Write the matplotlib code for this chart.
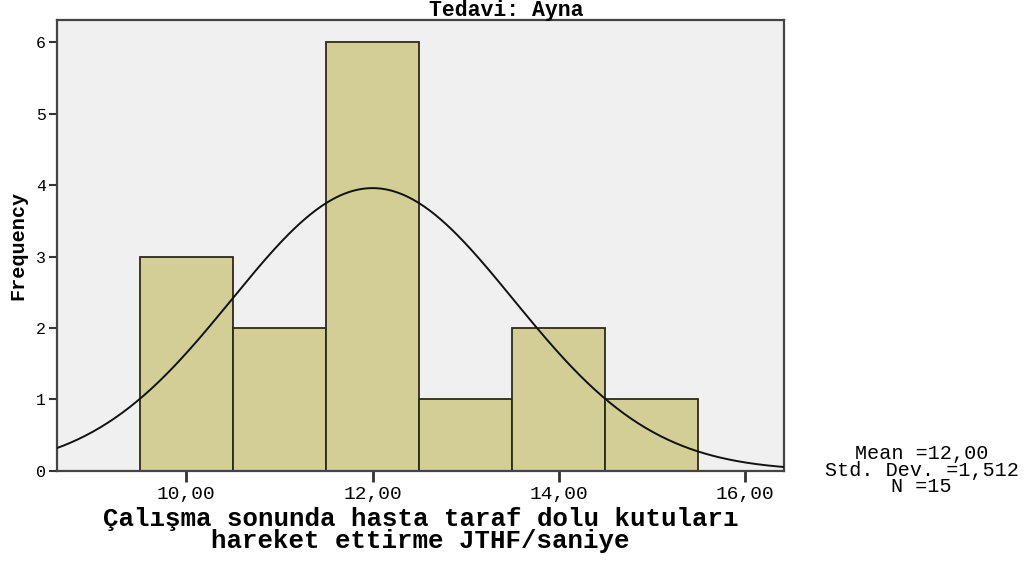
import matplotlib
matplotlib.use("Agg")
import matplotlib.pyplot as plt
import numpy as np

# histogram bins (edges) and counts
bin_edges = [9.5, 10.5, 11.5, 12.5, 13.5, 14.5, 15.5]
counts = [3, 2, 6, 1, 2, 1]
mean, sd, n = 12.00, 1.512, 15

xticks = [10, 12, 14, 16]
xtick_labels = ["10,00", "12,00", "14,00", "16,00"]
yticks = [0, 1, 2, 3, 4, 5, 6]

mono = "Liberation Mono"

fig = plt.figure(figsize=(10.31, 5.62), dpi=100)
ax = fig.add_axes([0.0553, 0.162, 0.7051, 0.8024])
ax.set_facecolor("#f0f0f0")

lefts = np.array(bin_edges[:-1])
widths = np.diff(bin_edges)
ax.bar(lefts, counts, width=widths, align="edge", color="#d3cd96",
       edgecolor="#2e2a18", linewidth=1.3, zorder=2)

# normal curve scaled to counts (bin width 1)
xs = np.linspace(8.6, 16.45, 400)
bw = widths[0]
ys = n * bw / (sd * np.sqrt(2 * np.pi)) * np.exp(-0.5 * ((xs - mean) / sd) ** 2)
ax.plot(xs, ys, color="#111111", linewidth=1.4, zorder=3)

ax.set_xlim(8.61, 16.42)
ax.set_ylim(0, 6.31)
ax.set_xticks(xticks)
ax.set_xticklabels(xtick_labels, fontfamily=mono, fontsize=14)
ax.set_yticks(yticks)
ax.set_yticklabels([str(v) for v in yticks], fontfamily=mono, fontsize=12)
ax.tick_params(axis="x", length=8, width=2, color="#333333", pad=3)
ax.tick_params(axis="y", length=6, width=1.5, color="#333333", pad=2)
for s in ax.spines.values():
    s.set_color("#444444")
    s.set_linewidth(1.6)

ax.set_xlabel("Çalışma sonunda hasta taraf dolu kutuları\nhareket ettirme JTHF/saniye",
              fontfamily=mono, fontweight="bold", fontsize=18.5, labelpad=3,
              linespacing=0.87)

fig.text(0.0175, 0.564, "Frequency", fontfamily=mono, fontweight="bold",
         fontsize=14.5, rotation=90, ha="center", va="center")

fig.text(0.491, 0.9715, "Tedavi: Ayna", fontfamily=mono, fontweight="bold",
         fontsize=15.5, ha="center", va="baseline")

fig.text(0.894, 0.1637, "Mean =12,00\nStd. Dev. =1,512\nN =15",
         fontfamily=mono, fontsize=14.5, ha="center", va="center",
         linespacing=0.85)

fig.savefig("out.png", dpi=100)
